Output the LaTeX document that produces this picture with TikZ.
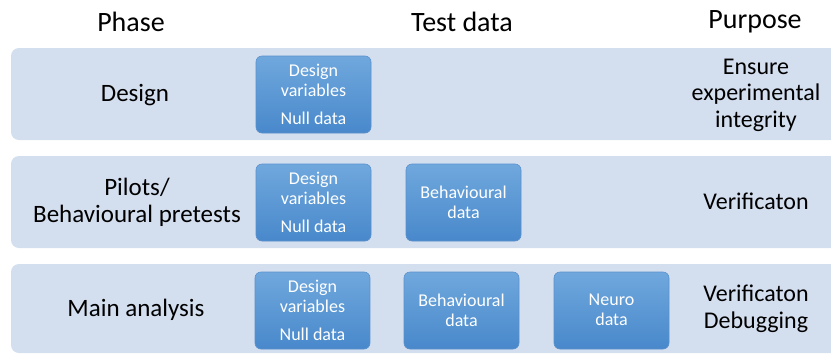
\documentclass[tikz,border=0pt]{standalone}
\usepackage{fontspec}
\setmainfont{Carlito}
\definecolor{band}{RGB}{211,222,239}
\definecolor{boxtop}{RGB}{112,168,221}
\definecolor{boxbot}{RGB}{72,136,203}
\definecolor{boxedge}{RGB}{90,145,205}
\begin{document}
\begin{tikzpicture}[x=1pt,y=-1pt,
  bandbox/.style={fill=band,rounded corners=8pt},
  databox/.style={draw=boxedge,line width=0.6pt,rounded corners=6pt,top color=boxtop,bottom color=boxbot},
  boxtext/.style={text=white,font=\fontsize{18}{20}\selectfont,align=center,inner sep=0pt},
  head/.style={font=\fontsize{28}{32}\selectfont},
  phase/.style={font=\fontsize{25}{27}\selectfont,align=center},
  purp/.style={font=\fontsize{24}{26.5}\selectfont,align=center}]
\useasboundingbox (0,0) rectangle (831,354);
\fill[bandbox] (11,48) rectangle (845,140);
\fill[bandbox] (11,156) rectangle (845,248);
\fill[bandbox] (11,264) rectangle (845,353);
\node[head] (h1) at (131,22) {Phase};
\node[head] (h2) at (462,22) {Test data};
\node[head] (h3) at (755,22) {Purpose};
\node[phase] (p1) at (135,95) {Design};
\node[phase] (p2) at (137,202) {Pilots/\\Behavioural pretests};
\node[phase] (p3) at (136,310) {Main analysis};
\path[databox] (256,56) rectangle (371,133);
\node[boxtext] (d1) at (313.5,80) {Design\\variables};
\node[boxtext] (n1) at (313.5,118) {Null data};
\path[databox] (256,164) rectangle (371,241);
\node[boxtext] (d2) at (313.5,188) {Design\\variables};
\node[boxtext] (n2) at (313.5,226) {Null data};
\path[databox] (406,164) rectangle (521,241);
\node[boxtext] (b2) at (463.5,202) {Behavioural\\data};
\path[databox] (255,272) rectangle (370,349);
\node[boxtext] (d3) at (312.5,296) {Design\\variables};
\node[boxtext] (n3) at (312.5,334) {Null data};
\path[databox] (404,272) rectangle (519,349);
\node[boxtext] (b3) at (461.5,310) {Behavioural\\data};
\path[databox] (554,272) rectangle (669,349);
\node[boxtext] (ne3) at (611.5,310) {Neuro\\data};
\node[purp] (u1) at (756,95) {Ensure\\experimental\\integrity};
\node[purp] (u2) at (756,201) {Verificaton};
\node[purp] (u3) at (756,309) {Verificaton\\Debugging};
\end{tikzpicture}
\end{document}
